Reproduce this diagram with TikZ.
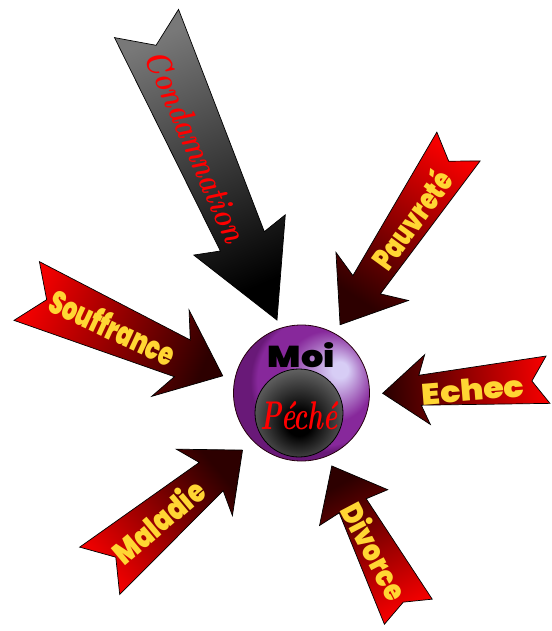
\documentclass[tikz,border=0pt]{standalone}
\usepackage{fontspec}
\usepackage{graphicx}
\newfontfamily\chunk{Poppins Black}
\usetikzlibrary{calc}
\definecolor{arrred}{RGB}{245,0,0}
\definecolor{arrdark}{RGB}{45,0,0}
\definecolor{ytext}{RGB}{255,214,51}
\definecolor{lav}{RGB}{215,205,245}
\definecolor{purp}{RGB}{135,40,155}
\definecolor{purpdk}{RGB}{105,25,120}
\definecolor{condgray}{RGB}{120,120,120}
\pgfdeclareradialshading{purpball}{\pgfpoint{15bp}{9bp}}{color(0bp)=(lav); color(3bp)=(lav); color(17bp)=(purp); color(24bp)=(purp); color(26bp)=(purpdk); color(50bp)=(purpdk)}
\pgfdeclareradialshading{innerball}{\pgfpoint{0bp}{-7bp}}{color(0bp)=(black); color(7bp)=(black); color(28bp)=(black!62); color(50bp)=(black!62)}
\def\ndfac{0.34}
\newcommand{\myarrow}[9]{%
  \pgfmathsetmacro\shang{90-(#3)}%
  \begin{scope}[shift={(#2)}, rotate={-(#3)}]
    \shade[#1, shading angle=\shang] (0,{-(#5)/2}) -- ({#4-#8},{-(#6)/2}) -- ({#4-#8-#9},{-(#7)/2}) -- (#4,0) -- ({#4-#8-#9},{(#7)/2}) -- ({#4-#8},{(#6)/2}) -- (0,{(#5)/2}) -- ({\ndfac*(#5)},0) -- cycle;
  \end{scope}}
\tikzset{
  redarr/.style={top color=arrred, bottom color=arrdark, draw=black, line width=0.7pt, line join=miter},
  blackarr/.style={top color=condgray, bottom color=black, draw=black, line width=0.7pt, line join=miter},
  ytxt/.style={text=ytext, font=\chunk, inner sep=0pt},
  rtxt/.style={text=red, font=\bfseries\itshape, inner sep=0pt},
}
\begin{document}
\begin{tikzpicture}[x=1pt,y=-1pt]
\useasboundingbox (0,0) rectangle (551,631);
\fill[white] (0,0) rectangle (551,631);
% arrows
\myarrow{blackarr}{146.5,23.5}{66.25}{324}{70}{48}{100}{86}{7}
\myarrow{redarr}{458.5,146.5}{123.6}{214}{52}{33}{87}{48}{10}
\myarrow{redarr}{26.7,291}{23.4}{213.6}{64}{40}{94}{44}{13}
\myarrow{redarr}{548,379.7}{175.3}{165.9}{47.5}{30}{70}{37.5}{7.5}
\myarrow{redarr}{99.7,570.8}{-40.2}{187}{62}{37}{87}{41}{9}
\def\ndfac{0.2}
\myarrow{redarr}{408.3,611.7}{-117.7}{164.6}{54}{30.5}{77}{45}{2}
% central sphere
\shade[shading=purpball, draw=black!80!purple, line width=0.8pt] (301.5,393) circle (68);
\shade[shading=innerball, draw=black, line width=0.8pt] (299,413) circle (44);
% texts
\node[rtxt, rotate=-66.25] (cond) at (196,146) {\resizebox{205pt}{24pt}{Condamnation}};
\node[ytxt, rotate=54] (pauv) at (411,219) {\resizebox{113pt}{27pt}{Pauvreté}};
\node[ytxt, rotate=-25] (souf) at (113,327) {\resizebox{135pt}{26pt}{Souffrance}};
\node[ytxt, rotate=4.7] (echec) at (473,390) {\resizebox{103pt}{22pt}{Echec}};
\node[ytxt, rotate=40] (mal) at (158,521) {\resizebox{110pt}{26pt}{Maladie}};
\node[ytxt, rotate=-62.3] (div) at (375,551) {\resizebox{105pt}{25pt}{Divorce}};
\node[font=\chunk, text=black, inner sep=0pt] (moi) at (301.5,355) {\resizebox{67pt}{25pt}{Moi}};
\node[rtxt] (peche) at (299,416) {\resizebox{78pt}{28pt}{Péché}};
\end{tikzpicture}
\end{document}
